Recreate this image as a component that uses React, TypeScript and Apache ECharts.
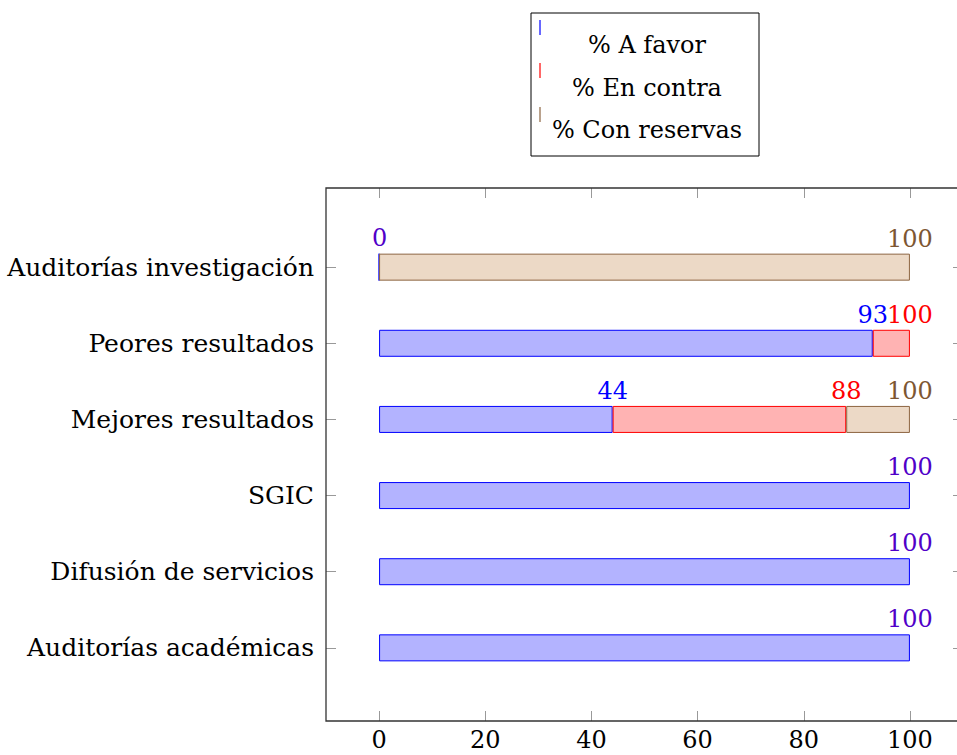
import React, { useEffect, useRef } from "react";
import * as echarts from "echarts";

// categories bottom -> top (as drawn on the y axis)
const categories = [
  "Auditorías académicas",
  "Difusión de servicios",
  "SGIC",
  "Mejores resultados",
  "Peores resultados",
  "Auditorías investigación",
];
const aFavor: (number | null)[] = [100, 100, 100, 44, 93, 0];
const enContra: (number | null)[] = [null, null, null, 44, 7, null];
const conReservas: (number | null)[] = [null, null, null, 12, null, 100];
const xTicks = [0, 20, 40, 60, 80, 100];
const seriesNames = ["% A favor", "% En contra", "% Con reservas"];

const FONT = "DejaVu Serif";
const BLUE = "#0000ff";
const RED = "#ff0000";
const BROWN = "#8c6440";
const BROWN_TEXT = "#7d5632";
const MIX = "#5000c8";

const W = 975;

export default function App() {
  const ref = useRef<HTMLDivElement>(null);
  useEffect(() => {
    if (!ref.current) return;
    const chart = echarts.init(ref.current, null, { renderer: "svg" });
    const yCats = ["", ...categories, ""];
    const pad = (arr: (number | null)[]) => [null, ...arr, null].map((v) => (v === null ? "-" : v));
    const all = [aFavor, enContra, conReservas];
    const cum = (si: number, di: number) => {
      let s = 0;
      for (let k = 0; k <= si; k++) s += all[k][di] ?? 0;
      return s;
    };
    const colors = [
      { fill: "#b3b3ff", stroke: BLUE, text: BLUE },
      { fill: "#ffb3b3", stroke: RED, text: RED },
      { fill: "#ecd9c6", stroke: BROWN, text: BROWN_TEXT },
    ];
    const series = all.map((arr, si) => ({
      type: "bar",
      name: seriesNames[si],
      stack: "total",
      barWidth: 27,
      data: pad(arr).map((v, idx) => {
        if (v === "-") return "-";
        const di = idx - 1;
        let color = colors[si].text;
        if (si === 0 && enContra[di] === null) color = MIX;
        return { value: v, label: { color } };
      }),
      itemStyle: { color: colors[si].fill, borderColor: colors[si].stroke, borderWidth: 1 },
      label: {
        show: true,
        position: ["100%", -3],
        align: "center",
        verticalAlign: "bottom",
        fontFamily: FONT,
        fontSize: 24,
        formatter: (p: any) => String(cum(si, p.dataIndex - 1)),
      },
    }));

    const legendY = [27, 70, 114];
    const legendColors = [BLUE, RED, BROWN];
    const noLine = { show: false, onZero: false };
    const tickStyle = { color: "#999", width: 1 };
    const inner = (i: number) => i > 0 && i < yCats.length - 1;

    chart.setOption({
      animation: false,
      grid: { left: 326, top: 191, right: W - 963, bottom: 31, containLabel: false },
      xAxis: [
        {
          type: "value",
          min: -10,
          max: 110,
          position: "bottom",
          offset: -3,
          splitLine: { show: false },
          axisLine: noLine,
          axisTick: { show: true, inside: true, length: 10, customValues: xTicks, lineStyle: tickStyle },
          axisLabel: { customValues: xTicks, fontFamily: FONT, fontSize: 24, color: "#000", margin: 7 },
        },
        {
          type: "value",
          min: -10,
          max: 110,
          position: "top",
          offset: 3,
          splitLine: { show: false },
          axisLine: noLine,
          axisTick: { show: true, inside: true, length: 10, customValues: xTicks, lineStyle: tickStyle },
          axisLabel: { show: false },
        },
      ],
      yAxis: [
        {
          type: "category",
          data: yCats,
          boundaryGap: false,
          position: "left",
          axisLine: noLine,
          axisTick: { show: true, inside: true, length: 10, interval: inner, lineStyle: tickStyle },
          axisLabel: { fontFamily: FONT, fontSize: 25, color: "#000", margin: 12, interval: 0 },
          splitLine: { show: false },
        },
        {
          type: "category",
          data: yCats,
          boundaryGap: false,
          position: "right",
          axisLine: noLine,
          axisTick: { show: true, inside: true, length: 10, interval: inner, lineStyle: tickStyle },
          axisLabel: { show: false },
          splitLine: { show: false },
        },
      ],
      series,
      graphic: [
        {
          type: "rect",
          silent: true,
          z: 10,
          shape: { x: 326, y: 188, width: 963 - 326, height: 721 - 188 },
          style: { fill: "none", stroke: "#333", lineWidth: 1.3 },
        },
        {
          type: "group",
          children: [
            {
              type: "rect",
              shape: { x: 531, y: 13, width: 228, height: 143 },
              style: { fill: "#fff", stroke: "#000", lineWidth: 1 },
            },
            ...legendY.map((y, i) => ({
              type: "line",
              shape: { x1: 540, y1: y - 7, x2: 540, y2: y + 8 },
              style: { stroke: legendColors[i], lineWidth: 1.2 },
            })),
            ...seriesNames.map((t, i) => ({
              type: "text",
              x: 647,
              y: [45, 88, 130][i],
              style: {
                text: t,
                fontFamily: FONT,
                fontSize: 24,
                fill: "#000",
                textAlign: "center",
                textVerticalAlign: "middle",
              },
            })),
          ],
        },
      ],
    });
    return () => chart.dispose();
  }, []);
  return (
    <div style={{ position: "absolute", left: 0, top: 0, width: 957, height: 755, overflow: "hidden" }}>
      <div ref={ref} style={{ width: W, height: 755 }} />
    </div>
  );
}
